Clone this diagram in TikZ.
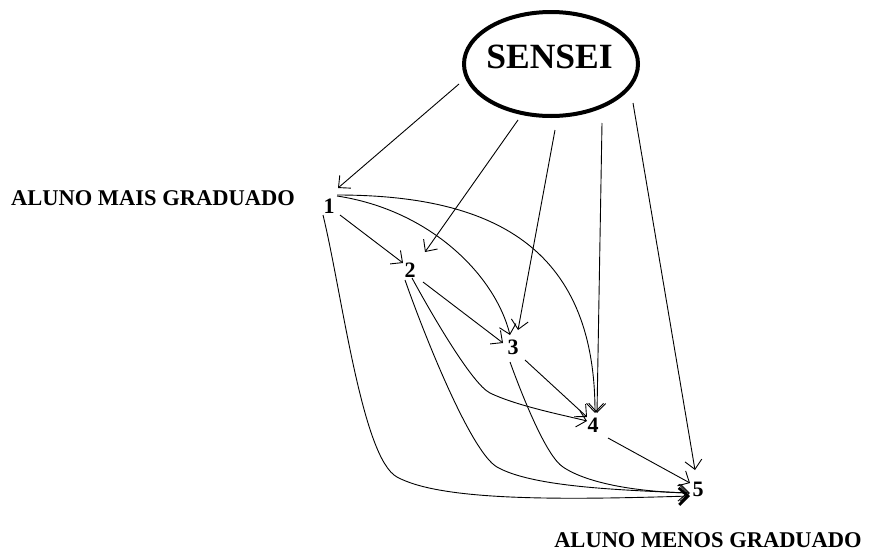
\documentclass[tikz,border=0pt]{standalone}
\usepackage{fontspec}
\setmainfont{Liberation Serif}
\usetikzlibrary{shapes.geometric,arrows.meta}
\tikzset{
  conn/.style={line width=0.9pt,-{Straight Barb[length=9pt,width=17pt,line width=0.9pt]}},
  boldconn/.style={line width=0.9pt,-{Straight Barb[length=9pt,width=17pt,line width=2.8pt]}},
  digit/.style={inner sep=0pt,font=\fontsize{22}{24}\selectfont\bfseries},
  lbl/.style={inner sep=0pt,font=\fontsize{22.5}{25}\selectfont\bfseries},
  sensei/.style={ellipse,draw,line width=4pt,minimum width=174pt,minimum height=104pt,inner sep=0pt}
}
\begin{document}
\begin{tikzpicture}[x=1pt,y=-1pt]
\useasboundingbox (0,0) rectangle (875,552);
\node[sensei] (s) at (551,64) {};
\node[inner sep=0pt,font=\fontsize{35.5}{40}\selectfont\bfseries] (st) at (549.5,57) {SENSEI};
\node[digit] (n1) at (329,206) {1};
\node[digit] (n2) at (410,270) {2};
\node[digit] (n3) at (513,347) {3};
\node[digit] (n4) at (593,425) {4};
\node[digit] (n5) at (698,489) {5};
\node[lbl] (lmais) at (153,198) {ALUNO MAIS GRADUADO};
\node[lbl] (lmenos) at (708,540.5) {ALUNO MENOS GRADUADO};
% from SENSEI
\draw[conn] ([shift={(-92,20)}]s.center) -- ([shift={(9,-18)}]n1.center);
\draw[conn] ([shift={(-33,56)}]s.center) -- ([shift={(15,-18)}]n2.center);
\draw[conn] ([shift={(4,66)}]s.center) -- ([shift={(5,-17)}]n3.center);
\draw[conn] ([shift={(51,59)}]s.center) -- ([shift={(4,-12)}]n4.center);
\draw[conn] ([shift={(82,39)}]s.center) -- ([shift={(-3,-19)}]n5.center);
% from 1
\draw[conn] ([shift={(11,9)}]n1.center) -- ([shift={(-7,-7)}]n2.center);
\draw[conn] ([shift={(8,-10)}]n1.center) .. controls (430,210) and (495,275) .. ([shift={(-3,-12)}]n3.center);
\draw[conn] ([shift={(8,-11)}]n1.center) .. controls (490,195) and (595,245) .. ([shift={(2,-12)}]n4.center);
\draw[boldconn] ([shift={(-6,9)}]n1.center) .. controls (342,293) and (362,458) .. (397,477)
  .. controls (441,501) and (560,500) .. ([shift={(-8,7)}]n5.center);
% from 2
\draw[conn] ([shift={(13,12)}]n2.center) -- ([shift={(-10,-4)}]n3.center);
\draw[conn] ([shift={(2,8)}]n2.center) .. controls (431,313) and (472,384) .. (490,393)
  .. controls (517,406) and (563,415) .. ([shift={(-6,-4)}]n4.center);
\draw[conn] ([shift={(-5,10)}]n2.center) .. controls (425,337) and (471,452) .. (497,467)
  .. controls (532,487) and (620,490) .. ([shift={(-10,4)}]n5.center);
% from 3
\draw[conn] ([shift={(12,13)}]n3.center) -- ([shift={(-6,-8)}]n4.center);
\draw[conn] ([shift={(-3,15)}]n3.center) .. controls (522,395) and (546,456) .. (563,467)
  .. controls (588,484) and (640,492) .. ([shift={(-8,4)}]n5.center);
% from 4
\draw[conn] ([shift={(15,13)}]n4.center) -- ([shift={(-8,-6)}]n5.center);
\end{tikzpicture}
\end{document}
